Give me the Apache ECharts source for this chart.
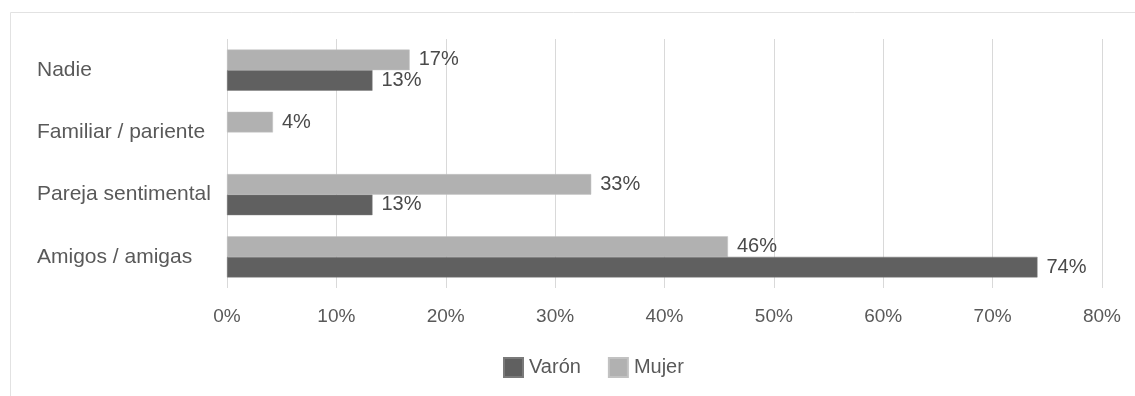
<!DOCTYPE html>
<html>
<head>
<meta charset="utf-8">
<script src="https://cdn.jsdelivr.net/npm/echarts@6/dist/echarts.min.js"></script>
<style>
html,body{margin:0;padding:0;background:#fff;}
#c{width:1135px;height:396px;}
</style>
</head>
<body>
<div id="c"></div>
<script>
const categories = ['Amigos / amigas', 'Pareja sentimental', 'Familiar / pariente', 'Nadie'];
const varon = [74.1, 13.3, null, 13.3];
const mujer = [45.8, 33.3, 4.2, 16.7];
const seriesNames = ['Varón', 'Mujer'];

const chart = echarts.init(document.getElementById('c'), null, {renderer: 'canvas'});
const FONT = '"Liberation Sans", Arial, sans-serif';
const lbl = {
  show: true, position: 'right', distance: 9,
  color: '#4a4a4a', fontSize: 20, fontFamily: FONT,
  formatter: p => Math.round(p.value) + '%'
};
chart.setOption({
  animation: false,
  backgroundColor: '#fff',
  graphic: [{
    type: 'rect', silent: true,
    shape: {x: 10.5, y: 12.5, width: 1200, height: 500},
    style: {fill: 'none', stroke: '#e2e2e2', lineWidth: 1}
  }],
  grid: {left: 227, right: 33, top: 39, bottom: 108, containLabel: false},
  legend: {
    data: seriesNames,
    left: 503, top: 357, padding: 0,
    itemWidth: 19, itemHeight: 19, itemGap: 27,
    icon: 'rect',
    textStyle: {color: '#595959', fontSize: 20, fontFamily: FONT, padding: [0, 0, 0, 1]}
  },
  xAxis: {
    type: 'value', min: 0, max: 80, interval: 10,
    axisLine: {show: false}, axisTick: {show: false},
    splitLine: {show: true, lineStyle: {color: '#d9d9d9', width: 1}},
    axisLabel: {color: '#595959', fontSize: 19, fontFamily: FONT, margin: 19, formatter: v => v + '%'}
  },
  yAxis: {
    type: 'category', data: categories,
    axisLine: {show: false}, axisTick: {show: false},
    axisLabel: {color: '#595959', fontSize: 21, fontFamily: FONT, align: 'left', margin: 190}
  },
  series: [
    {name: seriesNames[1], type: 'bar', data: mujer, barGap: '0%', barCategoryGap: '34%',
     itemStyle: {color: '#b1b1b1', borderColor: '#c2c2c2', borderWidth: 0.5}, label: lbl},
    {name: seriesNames[0], type: 'bar', data: varon, barGap: '0%', barCategoryGap: '34%',
     itemStyle: {color: '#606060', borderColor: '#7a7a7a', borderWidth: 0.5}, label: lbl}
  ]
});
</script>
</body>
</html>
